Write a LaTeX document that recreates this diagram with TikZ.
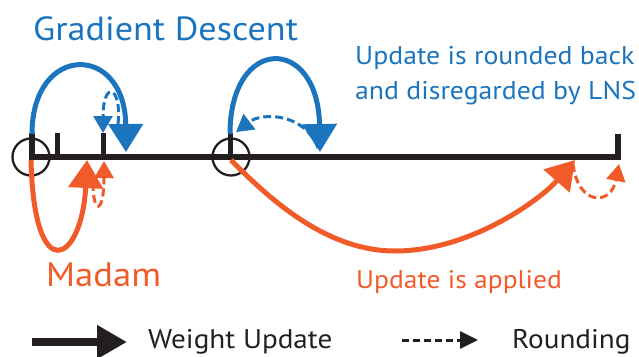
\documentclass[tikz,border=0pt]{standalone}
\usepackage{fontspec}
\setmainfont{PT Sans}[FakeStretch=1.08]
\usetikzlibrary{arrows.meta}
\definecolor{gdblue}{RGB}{28,117,188}
\definecolor{mdorange}{RGB}{241,90,41}
\definecolor{inkblack}{RGB}{35,31,32}
\tikzset{
  upd/.style={line width=5pt},
  rnd/.style={line width=3pt, dash pattern=on 8pt off 4pt},
  bigtip/.style={-{Triangle[length=28pt,width=34pt]}},
  smalltip/.style={-{Triangle[length=17pt,width=19pt]}},
  ring/.style={circle, draw=inkblack, line width=2.3pt, minimum size=37pt, inner sep=0pt},
  lbl/.style={anchor=base west, inner sep=0pt},
}
\begin{document}
\begin{tikzpicture}[x=1pt,y=-1pt]
\useasboundingbox (0,0) rectangle (639,356);

% axis
\coordinate (a0) at (32,157);
\coordinate (a1) at (57,157);
\coordinate (a2) at (103,157);
\coordinate (b0) at (230,157);
\coordinate (e) at (618,157);
\draw[inkblack, line width=6pt, line join=miter] (32,133) -- (a0) -- (e) -- (618,134);
\draw[inkblack, line width=5pt] (a1) -- ++(0,-24);
\draw[inkblack, line width=5pt] (a2) -- ++(0,-24);
\draw[inkblack, line width=5pt] (b0) -- ++(0,-24);

% circles
\node[ring] (c1) at (31,157) {};
\node[ring] (c2) at (231,157) {};

% first group
\coordinate (g1s) at (32,134);
\coordinate (g1e) at (126,152);
\draw[gdblue, upd, bigtip] (g1s) .. controls (32,43) and (125,43) .. (g1e);
\coordinate (r1s) at (118,124);
\coordinate (r1e) at (103,133);
\draw[gdblue, rnd, smalltip] (r1s) .. controls (122,85) and (103,80) .. (r1e);

\coordinate (m1s) at (31,160);
\coordinate (m1e) at (87,160);
\draw[mdorange, upd, bigtip] (m1s) .. controls (34,290) and (82,262) .. (m1e);
\coordinate (q1s) at (93,183);
\coordinate (q1e) at (104,161);
\draw[mdorange, rnd, smalltip] (q1s) .. controls (93,215) and (104,215) .. (q1e);

% second group
\coordinate (g2s) at (230,134);
\coordinate (g2e) at (320,152);
\draw[gdblue, upd, bigtip] (g2s) .. controls (230,35) and (318,35) .. (g2e);
\coordinate (r2s) at (318,148);
\coordinate (r2e) at (236,132);
\draw[gdblue, rnd, smalltip] (r2s) .. controls (305,113) and (262,112) .. (r2e);

\coordinate (m2s) at (231,160);
\coordinate (m2b) at (395,251);
\coordinate (m2e) at (575,160);
\draw[mdorange, upd, bigtip] (m2s) .. controls (275,205) and (330,251) .. (m2b)
   .. controls (470,251) and (540,200) .. (m2e);
\coordinate (q2s) at (573,164);
\coordinate (q2e) at (619,164);
\draw[mdorange, rnd, smalltip] (q2s) .. controls (578,206) and (611,206) .. (q2e);

% texts
\node[lbl, gdblue, font=\fontsize{33.5}{40}\selectfont] (tgd) at (33,40) {Gradient Descent};
\node[lbl, gdblue, font=\fontsize{25.7}{30}\selectfont] (tr1) at (355,64) {Update is rounded back};
\node[lbl, gdblue, font=\fontsize{25.7}{30}\selectfont] (tr2) at (355,99) {and disregarded by LNS};
\node[lbl, mdorange, font=\fontsize{34}{40}\selectfont] (tmd) at (46,286) {Madam};
\node[lbl, mdorange, font=\fontsize{25.5}{30}\selectfont] (tap) at (356,288) {Update is applied};

% legend
\coordinate (l1s) at (32,342);
\coordinate (l1e) at (127,342);
\draw[inkblack, line width=8pt, -{Triangle[length=30pt,width=32pt]}] (l1s) -- (l1e);
\node[lbl, inkblack, font=\fontsize{27}{32}\selectfont] (tw) at (148,348) {Weight Update};
\coordinate (l2s) at (402,340);
\coordinate (l2e) at (478,340);
\draw[inkblack, line width=3pt, dash pattern=on 7pt off 4pt, -{Triangle[length=18pt,width=17pt]}] (l2s) -- (l2e);
\node[lbl, inkblack, font=\fontsize{27}{32}\selectfont] (trd) at (512,348) {Rounding};
\end{tikzpicture}
\end{document}
